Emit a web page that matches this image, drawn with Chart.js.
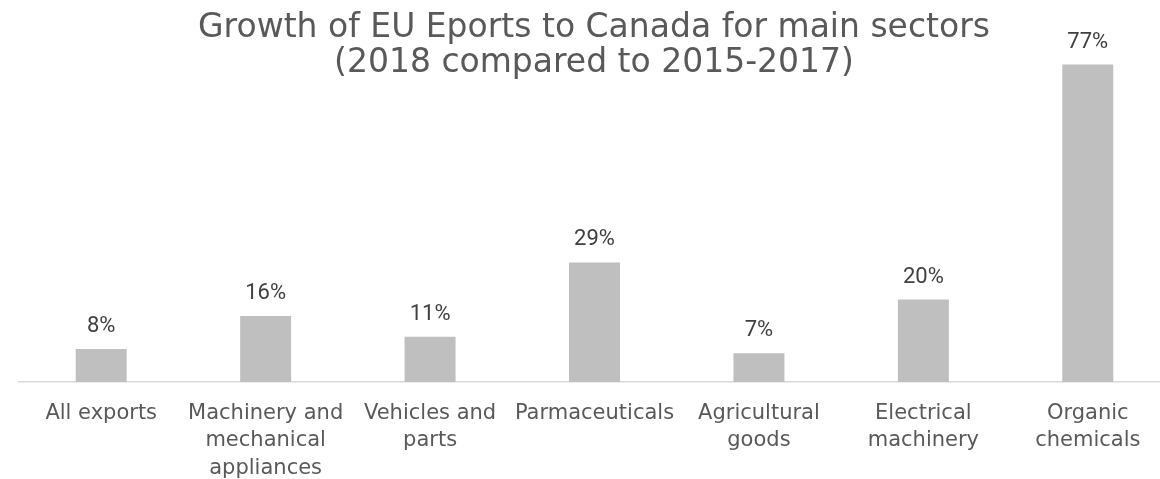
<!DOCTYPE html>
<html>
<head>
<meta charset="utf-8">
<script src="https://cdn.jsdelivr.net/npm/chart.js@4/dist/chart.umd.min.js"></script>
<style>
  html, body { margin: 0; padding: 0; background: #fff; overflow: hidden; }
  #wrap { width: 1160px; height: 479px; overflow: hidden; }
</style>
</head>
<body>
<div id="wrap"><canvas id="growthChart" width="1172" height="479"></canvas></div>
<script>
// chart data
const categories = [
    ["All exports"],
    ["Machinery and", "mechanical", "appliances"],
    ["Vehicles and", "parts"],
    ["Parmaceuticals"],
    ["Agricultural", "goods"],
    ["Electrical", "machinery"],
    ["Organic", "chemicals"]
];
const growthValues = [8, 16, 11, 29, 7, 20, 77];
const titleLines = ["Growth of EU Eports to Canada for main sectors", "(2018 compared to 2015-2017)"];

// title drawn over the plot area, like the original
const overlayTitle = {
    id: "overlayTitle",
    afterDraw(chart) {
        const ctx = chart.ctx;
        ctx.save();
        ctx.fillStyle = "#595959";
        ctx.font = "33px 'DejaVu Sans'";
        ctx.textAlign = "center";
        ctx.textBaseline = "alphabetic";
        ctx.fillText(titleLines[0], 594, 37);
        ctx.fillText(titleLines[1], 594, 72);
        ctx.restore();
    }
};

// value labels above bars
const valueLabels = {
    id: "valueLabels",
    afterDatasetsDraw(chart) {
        const ctx = chart.ctx;
        const meta = chart.getDatasetMeta(0);
        ctx.save();
        ctx.fillStyle = "#404040";
        ctx.font = "22px Roboto";
        ctx.textAlign = "center";
        ctx.textBaseline = "alphabetic";
        meta.data.forEach((bar, i) => {
            ctx.fillText(growthValues[i] + "%", bar.x, bar.y - 17);
        });
        ctx.restore();
    }
};

new Chart(document.getElementById("growthChart").getContext("2d"), {
    type: "bar",
    data: {
        labels: categories,
        datasets: [{
            data: growthValues,
            backgroundColor: "#bfbfbf",
            borderWidth: 0,
            barPercentage: 0.31,
            categoryPercentage: 1
        }]
    },
    options: {
        responsive: false,
        animation: false,
        layout: { padding: { left: 19, right: 2, top: 11, bottom: 0 } },
        plugins: {
            legend: { display: false },
            title: { display: false },
            tooltip: { enabled: false }
        },
        scales: {
            x: {
                grid: { drawOnChartArea: false, drawTicks: false },
                border: { display: true, color: "#d9d9d9", width: 1.5 },
                ticks: {
                    color: "#595959",
                    font: { family: "'DejaVu Sans'", size: 21, lineHeight: 1.3 },
                    padding: 18,
                    maxRotation: 0,
                    autoSkip: false
                },
                afterFit(scale) { scale.height = 97; }
            },
            y: {
                display: false,
                min: 0,
                max: 90
            }
        }
    },
    plugins: [overlayTitle, valueLabels]
});
</script>
</body>
</html>
